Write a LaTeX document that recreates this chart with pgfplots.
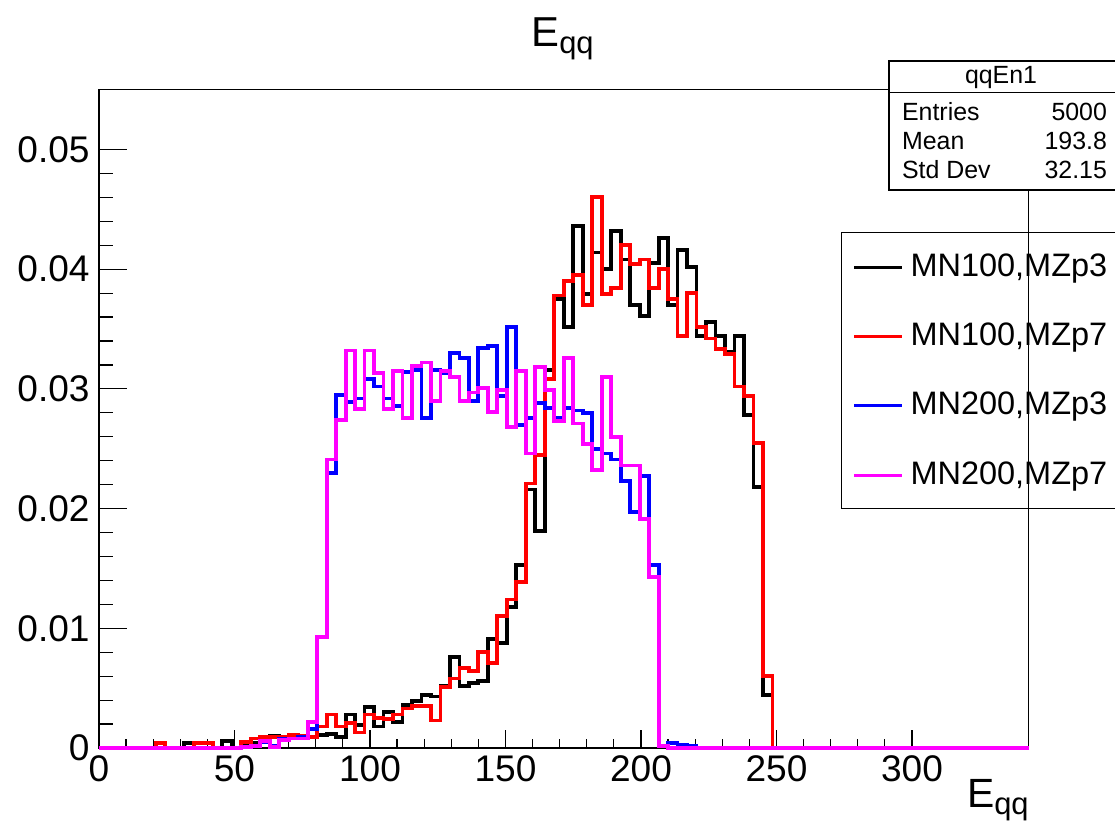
\documentclass[border=0pt]{standalone}
\usepackage{pgfplots}
\pgfplotsset{compat=1.18}
\usepackage{pgfplotstable}
\usepackage{fontspec}
\setmainfont{Liberation Sans}

\definecolor{rootred}{RGB}{255,0,0}
\definecolor{rootblue}{RGB}{0,0,255}
\definecolor{rootmag}{RGB}{255,0,255}

\pgfplotstableread{
x     mnAzA   mnAzB   mnBzA   mnBzB
0     0       0       0       0
3.5   0       0       0       0
7     0       0       0       0
10.5  0       0       0       0
14    0       0       0       0
17.5  0       0       0       0
21    0       0.0004  0       0
24.5  0       0       0       0
28    0       0       0       0
31.5  0.0004  0       0       0
35    0       0.0004  0       0
38.5  0       0.0004  0       0
42    0       0       0       0
45.5  0.0006  0       0       0
49    0       0       0       0
52.5  0.0003  0.0005  0.0001  0.0001
56    0.0004  0.0008  0.0002  0.0002
59.5  0.0009  0.0009  0.0005  0.0006
63    0.0010  0.0009  0.0002  0.0001
66.5  0.0008  0.0009  0.0008  0.0007
70    0.0008  0.0011  0.0008  0.0008
73.5  0.0008  0.0010  0.0009  0.0008
77    0.0009  0.0009  0.0016  0.0022
80.5  0.0011  0.0018  0.0093  0.0093
84    0.0012  0.0028  0.0230  0.0241
87.5  0.0009  0.0018  0.0295  0.0274
91    0.0028  0.0021  0.0289  0.0332
94.5  0.0019  0.0013  0.0292  0.0283
98    0.0034  0.0028  0.0308  0.0332
101.5 0.0018  0.0025  0.0302  0.0313
105   0.0030  0.0024  0.0292  0.0283
108.5 0.0022  0.0028  0.0286  0.0315
112   0.0036  0.0033  0.0314  0.0276
115.5 0.0039  0.0035  0.0316  0.0319
119   0.0044  0.0035  0.0276  0.0322
122.5 0.0043  0.0023  0.0316  0.0290
126   0.0052  0.0051  0.0313  0.0315
129.5 0.0076  0.0058  0.0330  0.0310
133   0.0052  0.0067  0.0326  0.0290
136.5 0.0054  0.0064  0.0290  0.0297
140   0.0056  0.0080  0.0334  0.0301
143.5 0.0091  0.0071  0.0336  0.0281
147   0.0088  0.0110  0.0294  0.0299
150.5 0.0118  0.0124  0.0352  0.0268
154   0.0153  0.0139  0.0270  0.0315
157.5 0.0216  0.0221  0.0276  0.0246
161   0.0181  0.0245  0.0288  0.0318
164.5 0.0316  0.0308  0.0284  0.0299
168   0.0375  0.0378  0.0276  0.0273
171.5 0.0352  0.0390  0.0284  0.0326
175   0.0436  0.0395  0.0282  0.0271
178.5 0.0379  0.0370  0.0280  0.0254
182   0.0414  0.0460  0.0250  0.0232
185.5 0.0400  0.0379  0.0246  0.0310
189   0.0432  0.0384  0.0241  0.0260
192.5 0.0408  0.0420  0.0223  0.0236
196   0.0370  0.0404  0.0197  0.0236
199.5 0.0361  0.0408  0.0227  0.0191
203   0.0405  0.0384  0.0153  0.0143
206.5 0.0426  0.0400  0.0002  0.0002
210   0.0370  0.0375  0.0004  0
213.5 0.0416  0.0344  0.0003  0
217   0.0402  0.0380  0.0002  0
220.5 0.0344  0.0352  0       0
224   0.0356  0.0342  0       0
227.5 0.0344  0.0333  0       0
231   0.0331  0.0329  0       0
234.5 0.0344  0.0302  0       0
238   0.0278  0.0294  0       0
241.5 0.0218  0.0255  0       0
245   0.0044  0.0060  0       0
248.5 0       0       0       0
343   0       0       0       0
}\histtab

\begin{document}
\begin{tikzpicture}
\begin{axis}[
  name=ax, at={(0,0)}, anchor=south west,
  scale only axis, width=464.75bp, height=329.2bp,
  xmin=0, xmax=343, ymin=0, ymax=0.055,
  axis line style={line width=0.6bp},
  tick pos=left, tick align=inside,
  xtick={0,50,100,150,200,250,300},
  xticklabels={0,50,100,150,200,250,300},
  minor x tick num=4,
  ytick={0,0.01,0.02,0.03,0.04,0.05},
  yticklabels={0,0.01,0.02,0.03,0.04,0.05},
  minor y tick num=4,
  xtick style={/pgfplots/major tick length=9bp, /pgfplots/minor tick length=4.5bp, line width=0.6bp, black},
  ytick style={/pgfplots/major tick length=14bp, /pgfplots/minor tick length=7bp, line width=0.6bp, black},
  ticklabel style={font=\fontsize{18.6}{22}\selectfont, inner sep=0pt},
  xticklabel style={yshift=-3.5bp},
  yticklabel style={xshift=-4.5bp},
  scaled y ticks=false,
  clip=false,
  every axis plot/.append style={const plot, line width=1.9bp},
  legend style={at={(0.79903,0.78266)}, anchor=north west, draw=none, fill=none,
    inner xsep=0pt, inner ysep=9.5bp, row sep=19.65bp,
    font=\fontsize{16.3}{19}\selectfont,
    nodes={inner xsep=3.5bp, inner ysep=0pt, text height=12bp, text depth=3bp}},
  legend cell align=left,
  legend image code/.code={\path (0bp,0bp); \draw[#1, line width=1.5bp] (5bp,0bp) -- (29bp,0bp);},
]
\addplot[black] table[x=x, y=mnAzA] {\histtab};
\addlegendentry{MN100,MZp3}
\addplot[rootred] table[x=x, y=mnAzB] {\histtab};
\addlegendentry{MN100,MZp7}
\addplot[rootblue] table[x=x, y=mnBzA] {\histtab};
\addlegendentry{MN200,MZp3}
\addplot[rootmag] table[x=x, y=mnBzB] {\histtab};
\addlegendentry{MN200,MZp7}
\end{axis}

% legend frame
\draw[line width=0.6bp] (371.35bp,119.85bp) rectangle (512bp,257.65bp);
% stats box
\draw[line width=0.6bp, fill=white] (395bp,279bp) rectangle (512bp,343.5bp);
\draw[line width=0.6bp] (395bp,327.65bp) -- (512bp,327.65bp);
\begin{scope}[every node/.style={inner sep=0pt, font=\fontsize{12.5}{15}\selectfont}]
\node[anchor=base] at (451bp,332bp) {qqEn1};
\node[anchor=base west] at (401.35bp,313.5bp) {Entries};
\node[anchor=base east] at (504.15bp,313.5bp) {5000};
\node[anchor=base west] at (401.35bp,299bp) {Mean};
\node[anchor=base east] at (504.15bp,299bp) {193.8};
\node[anchor=base west] at (401.35bp,284.85bp) {Std Dev};
\node[anchor=base east] at (504.15bp,284.85bp) {32.15};
\end{scope}
% title
\node[anchor=base west, inner sep=0pt, font=\fontsize{21}{25}\selectfont] at (216bp,350.65bp)
  {E\raisebox{-3.5bp}{\fontsize{15.5}{18}\selectfont qq}};
% x label
\node[anchor=base east, inner sep=0pt, font=\fontsize{20.5}{25}\selectfont] at (465bp,-29.65bp)
  {E\raisebox{-3.5bp}{\fontsize{15.5}{18}\selectfont qq}};

\pgfresetboundingbox
\path (-49.5bp,-37.5bp) rectangle (508bp,374bp);
\end{tikzpicture}
\end{document}
